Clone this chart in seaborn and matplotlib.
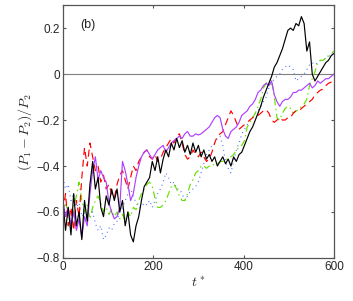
import numpy as np
import pandas as pd
import matplotlib
matplotlib.use("Agg")
import matplotlib.pyplot as plt
from matplotlib.ticker import FuncFormatter
import seaborn as sns

# time grid (every 6 time units)
t = np.arange(0, 601, 6)

black = [-0.55, -0.68, -0.58, -0.70, -0.52, -0.66, -0.60, -0.72, -0.55, -0.64,
         -0.48, -0.38, -0.50, -0.45, -0.58, -0.62, -0.53, -0.57, -0.50, -0.55,
         -0.50, -0.60, -0.55, -0.66, -0.60, -0.70, -0.73, -0.66, -0.62, -0.55,
         -0.49, -0.47, -0.45, -0.38, -0.42, -0.36, -0.43, -0.37, -0.33, -0.36,
         -0.30, -0.33, -0.28, -0.32, -0.29, -0.34, -0.31, -0.35, -0.30, -0.34,
         -0.31, -0.36, -0.33, -0.37, -0.35, -0.38, -0.36, -0.40, -0.38, -0.36,
         -0.39, -0.37, -0.40, -0.36, -0.38, -0.35, -0.34, -0.31, -0.28, -0.25,
         -0.23, -0.20, -0.17, -0.14, -0.10, -0.07, -0.04, -0.01, 0.03, 0.05,
         0.08, 0.11, 0.15, 0.19, 0.20, 0.19, 0.22, 0.21, 0.25, 0.22,
         0.10, 0.14, 0.00, -0.03, -0.01, 0.01, 0.03, 0.05, 0.06, 0.08,
         0.09]

purple = [-0.55, -0.62, -0.58, -0.66, -0.60, -0.68, -0.63, -0.71, -0.62, -0.66,
          -0.52, -0.42, -0.36, -0.46, -0.42, -0.45, -0.47, -0.56, -0.60, -0.63,
          -0.62, -0.58, -0.38, -0.42, -0.48, -0.55, -0.52, -0.45, -0.40, -0.36,
          -0.34, -0.33, -0.35, -0.37, -0.35, -0.33, -0.32, -0.31, -0.34, -0.32,
          -0.30, -0.29, -0.28, -0.27, -0.28, -0.26, -0.25, -0.27, -0.27, -0.26,
          -0.265, -0.26, -0.25, -0.24, -0.23, -0.21, -0.19, -0.18, -0.19, -0.24,
          -0.27, -0.28, -0.25, -0.24, -0.23, -0.21, -0.18, -0.17, -0.16, -0.14,
          -0.13, -0.11, -0.08, -0.07, -0.05, -0.04, -0.05, -0.03, -0.09, -0.12,
          -0.14, -0.12, -0.11, -0.11, -0.10, -0.08, -0.08, -0.07, -0.07, -0.06,
          -0.05, -0.04, -0.06, -0.05, -0.03, -0.04, -0.03, -0.02, -0.02, -0.01,
          0.00]

red = [-0.60, -0.52, -0.66, -0.58, -0.68, -0.55, -0.62, -0.45, -0.32, -0.40,
       -0.30, -0.36, -0.42, -0.40, -0.47, -0.44, -0.50, -0.48, -0.52, -0.54,
       -0.48, -0.44, -0.42, -0.46, -0.50, -0.45, -0.40, -0.42, -0.38, -0.36,
       -0.34, -0.33, -0.36, -0.37, -0.35, -0.38, -0.37, -0.34, -0.32, -0.30,
       -0.28, -0.30, -0.27, -0.26, -0.30, -0.35, -0.37, -0.36, -0.33, -0.35,
       -0.36, -0.34, -0.36, -0.38, -0.37, -0.34, -0.30, -0.27, -0.26, -0.25,
       -0.22, -0.19, -0.16, -0.18, -0.21, -0.24, -0.23, -0.22, -0.21, -0.20,
       -0.19, -0.18, -0.18, -0.17, -0.16, -0.155, -0.17, -0.20, -0.21, -0.20,
       -0.19, -0.20, -0.20, -0.19, -0.19, -0.17, -0.16, -0.16, -0.15, -0.14,
       -0.13, -0.12, -0.11, -0.09, -0.08, -0.07, -0.065, -0.05, -0.04, -0.035,
       -0.03]

green = [-0.62, -0.56, -0.60, -0.66, -0.58, -0.53, -0.47, -0.55, -0.60, -0.57,
         -0.63, -0.58, -0.55, -0.53, -0.56, -0.60, -0.58, -0.61, -0.59, -0.62,
         -0.60, -0.63, -0.61, -0.64, -0.60, -0.62, -0.58, -0.59, -0.55, -0.52,
         -0.50, -0.48, -0.47, -0.49, -0.54, -0.58, -0.58, -0.57, -0.55, -0.52,
         -0.49, -0.48, -0.50, -0.53, -0.55, -0.55, -0.52, -0.48, -0.46, -0.43,
         -0.42, -0.40, -0.40, -0.41, -0.40, -0.40, -0.39, -0.39, -0.38, -0.38,
         -0.37, -0.37, -0.36, -0.35, -0.33, -0.32, -0.31, -0.29, -0.23, -0.21,
         -0.19, -0.17, -0.14, -0.11, -0.06, -0.04, -0.03, -0.025, -0.10, -0.19,
         -0.20, -0.17, -0.15, -0.14, -0.15, -0.17, -0.16, -0.155, -0.14, -0.13,
         -0.11, -0.05, -0.02, 0.01, 0.05, 0.06, 0.06, 0.07, 0.075, 0.09,
         0.10]

blue = [-0.45, -0.50, -0.48, -0.55, -0.52, -0.58, -0.56, -0.62, -0.60, -0.64,
        -0.62, -0.60, -0.65, -0.68, -0.66, -0.72, -0.70, -0.67, -0.68, -0.65,
        -0.64, -0.60, -0.58, -0.55, -0.52, -0.50, -0.53, -0.56, -0.58, -0.58,
        -0.56, -0.57, -0.55, -0.58, -0.55, -0.52, -0.50, -0.47, -0.43, -0.45,
        -0.48, -0.47, -0.50, -0.50, -0.52, -0.55, -0.53, -0.51, -0.50, -0.49,
        -0.47, -0.43, -0.39, -0.35, -0.33, -0.31, -0.30, -0.28, -0.27, -0.31,
        -0.38, -0.41, -0.43, -0.38, -0.33, -0.30, -0.26, -0.24, -0.22, -0.20,
        -0.19, -0.17, -0.16, -0.14, -0.12, -0.10, -0.06, -0.04, -0.02, -0.01,
        0.00, 0.02, 0.03, 0.04, 0.03, 0.02, -0.03, -0.02, -0.01, 0.00,
        0.02, 0.04, 0.05, 0.04, 0.05, 0.06, 0.06, 0.07, 0.08, 0.085,
        0.09]

sns.set_style("ticks")
plt.rcParams['font.family'] = ['Liberation Sans', 'DejaVu Sans']
plt.rcParams['mathtext.fontset'] = 'cm'

fig = plt.figure(figsize=(3.53, 3.01), dpi=100)
ax = fig.add_axes([0.178, 0.143, 0.768, 0.840])

ax.axhline(0, color='#808080', lw=0.8, zorder=1)

lw = 0.85
sns.lineplot(x=t, y=blue, ax=ax, color='#4a6cff', lw=lw, linestyle=(0, (0.8, 3.2)))
sns.lineplot(x=t, y=green, ax=ax, color='#66e000', lw=lw, linestyle=(0, (6, 3, 1.2, 3)))
sns.lineplot(x=t, y=red, ax=ax, color='#ff0000', lw=lw, linestyle=(0, (6, 4)))
sns.lineplot(x=t, y=purple, ax=ax, color='#b040ff', lw=lw)
sns.lineplot(x=t, y=black, ax=ax, color='black', lw=lw)

ax.set_xlim(0, 600)
ax.set_ylim(-0.8, 0.3)
ax.set_xticks([0, 200, 400, 600])
ax.set_yticks([-0.8, -0.6, -0.4, -0.2, 0, 0.2])
ax.yaxis.set_major_formatter(FuncFormatter(lambda v, p: ('%g' % round(v, 2)).replace('-', '\u2212')))

for s in ax.spines.values():
    s.set_visible(True)
    s.set_color('#555555')
    s.set_linewidth(0.9)
ax.tick_params(direction='in', length=2.5, width=0.8, color='#555555',
               top=True, right=True, labelsize=8.5, pad=2)

ax.set_xlabel(r'$t^*$', fontsize=10, labelpad=2)
ax.set_ylabel(r'$(P_1-P_2)/P_2$', fontsize=10, labelpad=2)
ax.text(0.063, 0.92, '(b)', transform=ax.transAxes, fontsize=9, va='center')

fig.savefig('out.png', dpi=100)
